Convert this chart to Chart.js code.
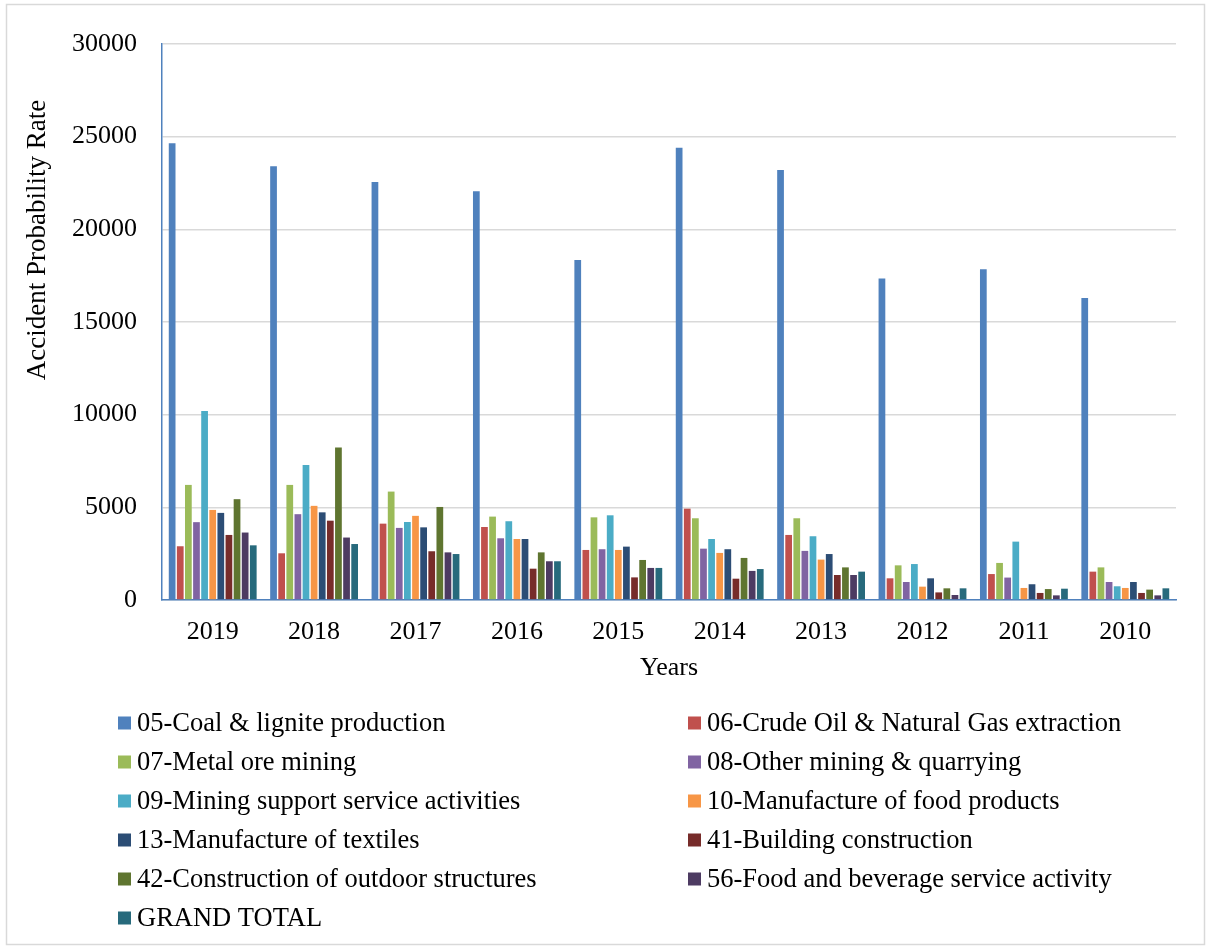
<!DOCTYPE html>
<html>
<head>
<meta charset="utf-8">
<title>Accident Probability Rate by Sector, 2010–2019</title>
<script src="https://cdn.jsdelivr.net/npm/chart.js@4/dist/chart.umd.min.js"></script>
<style>
  html, body { margin: 0; padding: 0; background: #fff; }
  #wrap { position: relative; width: 1211px; height: 950px; }
  canvas { display: block; }
</style>
</head>
<body>
<div id="wrap"><canvas id="c" width="1211" height="950"></canvas></div>
<script>
// Years on the category axis (most recent first)
const years = ['2019', '2018', '2017', '2016', '2015', '2014', '2013', '2012', '2011', '2010'];

// Accident probability rate per sector and year
const coalLignite      = [24650, 23400, 22550, 22050, 18350, 24400, 23200, 17350, 17850, 16300];
const crudeOilGas      = [2900, 2520, 4120, 3940, 2700, 4930, 3510, 1170, 1400, 1530];
const metalOre         = [6210, 6210, 5850, 4500, 4460, 4410, 4410, 1870, 2000, 1760];
const otherMining      = [4200, 4630, 3890, 3330, 2740, 2770, 2650, 970, 1210, 970];
const miningSupport    = [10200, 7290, 4210, 4250, 4570, 3290, 3440, 1940, 3150, 740];
const foodProducts     = [4860, 5080, 4540, 3290, 2700, 2540, 2180, 720, 650, 650];
const textiles         = [4700, 4730, 3920, 3290, 2880, 2740, 2480, 1170, 850, 970];
const buildingConstr   = [3510, 4280, 2630, 1690, 1220, 1150, 1350, 410, 380, 380];
const outdoorStructs   = [5440, 8230, 5020, 2570, 2160, 2270, 1760, 630, 590, 560];
const foodBeverageServ = [3640, 3370, 2570, 2090, 1730, 1570, 1350, 270, 250, 250];
const grandTotal       = [2950, 3020, 2480, 2090, 1730, 1670, 1530, 630, 610, 630];

// Y axis tick values
const yTicks = [0, 5000, 10000, 15000, 20000, 25000, 30000];

const seriesNames = [
  '05-Coal & lignite production',
  '06-Crude Oil & Natural Gas extraction',
  '07-Metal ore mining',
  '08-Other mining & quarrying',
  '09-Mining support service activities',
  '10-Manufacture of food products',
  '13-Manufacture of textiles',
  '41-Building construction',
  '42-Construction of outdoor structures',
  '56-Food and beverage service activity',
  'GRAND TOTAL'
];
const seriesValues = [
  coalLignite, crudeOilGas, metalOre, otherMining, miningSupport, foodProducts,
  textiles, buildingConstr, outdoorStructs, foodBeverageServ, grandTotal
];
const seriesColors = [
  '#4F81BD', '#C0504D', '#9BBB59', '#8064A2', '#4BACC6', '#F79646',
  '#2C4D75', '#772C2A', '#5F7530', '#4D3B62', '#276A7C'
];

const FONT_FAMILY = "'Liberation Serif', 'Times New Roman', serif";
const TICK_SIZE = 26;
const LEGEND_SIZE = 26.5;
const YTITLE_SIZE = 27;
const yTitle = 'Accident Probability Rate';

// White page with a thin grey frame
const framePlugin = {
  id: 'frame',
  beforeDraw(chart) {
    const ctx = chart.ctx;
    ctx.save();
    ctx.fillStyle = '#ffffff';
    ctx.fillRect(0, 0, chart.width, chart.height);
    ctx.strokeStyle = '#D9D9D9';
    ctx.lineWidth = 1.5;
    ctx.strokeRect(6.5, 4.5, 1198, 940);
    ctx.restore();
  }
};

// Vertical axis title and a two-column legend under the chart
const textPlugin = {
  id: 'sideTexts',
  afterDraw(chart) {
    const ctx = chart.ctx;
    const titleFont = Chart.helpers.toFont({ family: FONT_FAMILY, size: YTITLE_SIZE, lineHeight: 1.2 });
    const legendFont = Chart.helpers.toFont({ family: FONT_FAMILY, size: LEGEND_SIZE, lineHeight: 1.2 });
    ctx.save();
    ctx.fillStyle = '#000000';

    // y axis title, rotated
    ctx.save();
    ctx.font = titleFont.string;
    ctx.translate(38, 240);
    ctx.rotate(-Math.PI / 2);
    ctx.textAlign = 'center';
    ctx.textBaseline = 'middle';
    ctx.fillText(yTitle, 0, 0);
    ctx.restore();

    // legend
    const colX = [118, 688];
    const firstRow = 723;
    const rowGap = 39;
    const box = 13;
    ctx.font = legendFont.string;
    ctx.textBaseline = 'middle';
    ctx.textAlign = 'left';
    chart.data.datasets.forEach((ds, i) => {
      const x = colX[i % 2];
      const y = firstRow + Math.floor(i / 2) * rowGap;
      ctx.fillStyle = ds.backgroundColor;
      ctx.fillRect(x, y - box / 2, box, box);
      ctx.fillStyle = '#000000';
      ctx.fillText(ds.label, x + 19, y + 1);
    });
    ctx.restore();
  }
};

const datasets = seriesNames.map((name, i) => ({
  label: name,
  data: seriesValues[i],
  backgroundColor: seriesColors[i],
  borderWidth: 0,
  categoryPercentage: 0.88,
  barPercentage: 0.83
}));

new Chart(document.getElementById('c'), {
  type: 'bar',
  data: { labels: years, datasets },
  options: {
    responsive: false,
    devicePixelRatio: 1,
    animation: false,
    layout: { padding: { left: 0, top: 44, right: 35, bottom: 260 } },
    plugins: {
      legend: { display: false },
      tooltip: { enabled: false }
    },
    scales: {
      x: {
        grid: { display: false, drawTicks: false },
        border: { display: true, color: '#4F81BD', width: 1.5 },
        ticks: {
          color: '#000000',
          font: { family: FONT_FAMILY, size: TICK_SIZE },
          padding: 17,
          maxRotation: 0
        },
        title: {
          display: true,
          text: 'Years',
          color: '#000000',
          font: { family: FONT_FAMILY, size: TICK_SIZE },
          padding: { top: 0, bottom: 6 }
        },
        afterFit(scale) { scale.height = 90; }
      },
      y: {
        min: 0,
        max: 30000,
        afterBuildTicks(scale) { scale.ticks = yTicks.map(v => ({ value: v })); },
        grid: { color: '#D9D9D9', lineWidth: 1.5, drawTicks: false },
        border: { display: true, color: '#4F81BD', width: 1.5 },
        ticks: {
          color: '#000000',
          font: { family: FONT_FAMILY, size: TICK_SIZE },
          padding: 25,
          callback: (v) => String(v)
        },
        title: { display: false },
        afterFit(scale) { scale.width = 162; }
      }
    }
  },
  plugins: [framePlugin, textPlugin]
});
</script>
</body>
</html>
